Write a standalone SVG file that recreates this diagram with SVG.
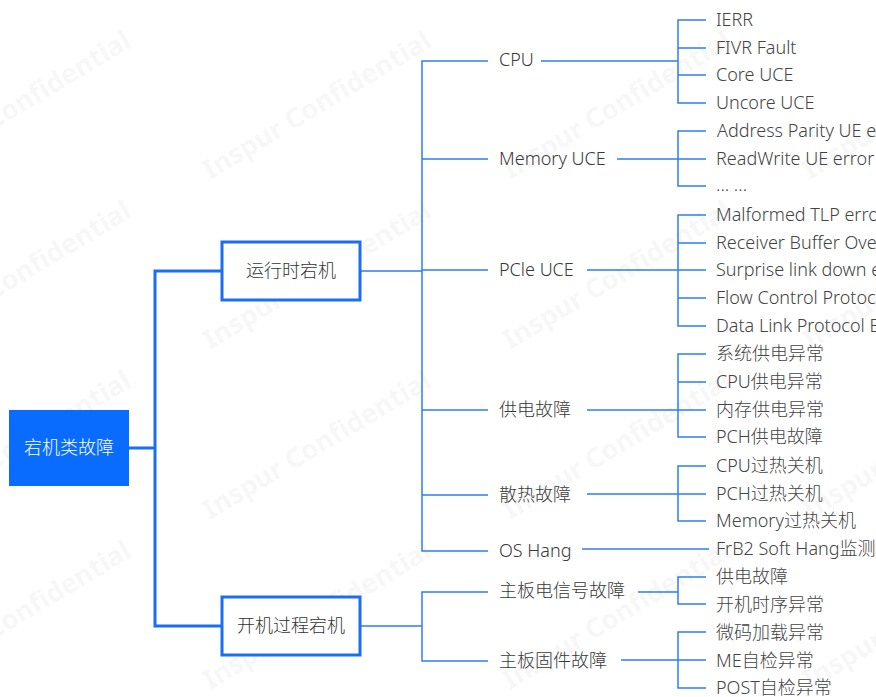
<svg xmlns="http://www.w3.org/2000/svg" width="876" height="697" viewBox="0 0 876 697">
<style>
.wm{font-family:"Noto Sans","Noto Sans CJK SC",sans-serif;font-size:27px;font-weight:bold;fill:#000;fill-opacity:0.055}
.t2{font-family:"Noto Sans","Noto Sans CJK SC",sans-serif;font-size:18px;font-weight:300;fill:#383838;dominant-baseline:central}
.lf{font-family:"Noto Sans","Noto Sans CJK SC",sans-serif;font-size:18px;font-weight:300;fill:#444;dominant-baseline:central}
.t1{font-family:"Noto Sans","Noto Sans CJK SC",sans-serif;font-size:18px;font-weight:300;fill:#333;dominant-baseline:central;text-anchor:middle}
.root{font-family:"Noto Sans","Noto Sans CJK SC",sans-serif;font-size:18px;font-weight:300;fill:#fff;dominant-baseline:central;text-anchor:middle}
.thick{fill:none;stroke:#1a6ef5;stroke-width:3}
.thin{fill:none;stroke:#2f7ef2;stroke-width:1.5}
.box{fill:#fff;stroke:#1a6ef5;stroke-width:3}
</style>
<rect width="876" height="697" fill="#fff"/>
<g id="watermark">
<text class="wm" transform="translate(-90,180) rotate(-31)">Inspur Confidential</text>
<text class="wm" transform="translate(210,180) rotate(-31)">Inspur Confidential</text>
<text class="wm" transform="translate(510,180) rotate(-31)">Inspur Confidential</text>
<text class="wm" transform="translate(810,180) rotate(-31)">Inspur Confidential</text>
<text class="wm" transform="translate(-90,350) rotate(-31)">Inspur Confidential</text>
<text class="wm" transform="translate(210,350) rotate(-31)">Inspur Confidential</text>
<text class="wm" transform="translate(510,350) rotate(-31)">Inspur Confidential</text>
<text class="wm" transform="translate(810,350) rotate(-31)">Inspur Confidential</text>
<text class="wm" transform="translate(-90,520) rotate(-31)">Inspur Confidential</text>
<text class="wm" transform="translate(210,520) rotate(-31)">Inspur Confidential</text>
<text class="wm" transform="translate(510,520) rotate(-31)">Inspur Confidential</text>
<text class="wm" transform="translate(810,520) rotate(-31)">Inspur Confidential</text>
<text class="wm" transform="translate(-90,690) rotate(-31)">Inspur Confidential</text>
<text class="wm" transform="translate(210,690) rotate(-31)">Inspur Confidential</text>
<text class="wm" transform="translate(510,690) rotate(-31)">Inspur Confidential</text>
<text class="wm" transform="translate(810,690) rotate(-31)">Inspur Confidential</text>
</g>
<g id="connectors">
<path class="thick" d="M129,448 H155 M221,271 H155 V626 H221"/>
<path class="thin" d="M360,271 H422 M488,61 H422 V551 H488 M422,159 H488 M422,270 H488 M422,410 H488 M422,495 H488"/>
<path class="thin" d="M360,626 H422 M488,592 H422 V661 H488"/>
<path class="thin" d="M541,61 H678 M706,20 H678 V103 H706 M678,48 H706 M678,75 H706"/>
<path class="thin" d="M617,159 H706 M706,131 H678 V186 H706"/>
<path class="thin" d="M587,270 H706 M706,215 H678 V326 H706 M678,243 H706 M678,298 H706"/>
<path class="thin" d="M587,410 H706 M706,354 H678 V437 H706 M678,382 H706"/>
<path class="thin" d="M587,494 H706 M706,466 H678 V521 H706"/>
<path class="thin" d="M582,549 H709"/>
<path class="thin" d="M638,592 H678 M706,577 H678 V604 H706"/>
<path class="thin" d="M621,660 H706 M706,632 H678 V688 H706"/>
</g>
<g id="root"><rect x="9" y="410" width="120" height="76" fill="#0a6cff"/><text class="root" x="69" y="447">宕机类故障</text></g>
<g id="runtime"><rect class="box" x="222" y="242" width="138" height="58"/><text class="t1" x="291" y="270">运行时宕机</text></g>
<g id="boot"><rect class="box" x="222" y="597" width="138" height="58"/><text class="t1" x="291" y="625">开机过程宕机</text></g>
<g id="cpu"><text class="t2" x="499" y="59">CPU</text></g>
<g id="mem"><text class="t2" x="499" y="158">Memory UCE</text></g>
<g id="pcie"><text class="t2" x="499" y="269">PCle UCE</text></g>
<g id="power"><text class="t2" x="499" y="409">供电故障</text></g>
<g id="heat"><text class="t2" x="499" y="494">散热故障</text></g>
<g id="oshang"><text class="t2" x="499" y="550">OS Hang</text></g>
<g id="board-signal"><text class="t2" x="499" y="590">主板电信号故障</text></g>
<g id="board-fw"><text class="t2" x="499" y="660">主板固件故障</text></g>
<g id="leaf-ierr"><text class="lf" x="716" y="19">IERR</text></g>
<g id="leaf-fivr"><text class="lf" x="716" y="47">FIVR Fault</text></g>
<g id="leaf-core"><text class="lf" x="716" y="74">Core UCE</text></g>
<g id="leaf-uncore"><text class="lf" x="716" y="102">Uncore UCE</text></g>
<g id="leaf-addr"><text class="lf" x="717" y="130">Address Parity UE e</text></g>
<g id="leaf-rw"><text class="lf" x="716" y="158">ReadWrite UE error</text></g>
<g id="leaf-dots"><text class="lf" x="716" y="184">... ...</text></g>
<g id="leaf-tlp"><text class="lf" x="716" y="214">Malformed TLP erro</text></g>
<g id="leaf-rbo"><text class="lf" x="716" y="242">Receiver Buffer Ove</text></g>
<g id="leaf-sld"><text class="lf" x="716" y="269">Surprise link down e</text></g>
<g id="leaf-fcp"><text class="lf" x="716" y="297">Flow Control Protoc</text></g>
<g id="leaf-dlp"><text class="lf" x="716" y="325">Data Link Protocol E</text></g>
<g id="leaf-sys-pwr"><text class="lf" x="716" y="353">系统供电异常</text></g>
<g id="leaf-cpu-pwr"><text class="lf" x="716" y="381">CPU供电异常</text></g>
<g id="leaf-mem-pwr"><text class="lf" x="716" y="409">内存供电异常</text></g>
<g id="leaf-pch-pwr"><text class="lf" x="716" y="436">PCH供电故障</text></g>
<g id="leaf-cpu-hot"><text class="lf" x="716" y="465">CPU过热关机</text></g>
<g id="leaf-pch-hot"><text class="lf" x="716" y="493">PCH过热关机</text></g>
<g id="leaf-mem-hot"><text class="lf" x="716" y="520">Memory过热关机</text></g>
<g id="leaf-frb2"><text class="lf" x="716" y="548">FrB2 Soft Hang监测</text></g>
<g id="leaf-pwr"><text class="lf" x="716" y="576">供电故障</text></g>
<g id="leaf-seq"><text class="lf" x="716" y="604">开机时序异常</text></g>
<g id="leaf-ucode"><text class="lf" x="716" y="632">微码加载异常</text></g>
<g id="leaf-me"><text class="lf" x="716" y="660">ME自检异常</text></g>
<g id="leaf-post"><text class="lf" x="716" y="687">POST自检异常</text></g>
</svg>
